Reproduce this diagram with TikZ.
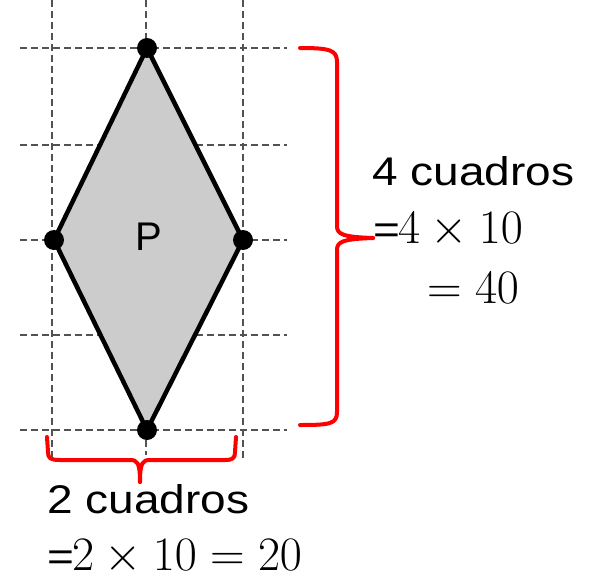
\RequirePackage{fix-cm}
\documentclass[tikz,border=0pt]{standalone}
\usepackage{fontspec}
\newfontfamily\lab[FakeStretch=1.15]{Liberation Sans}
\newfontfamily\plab{Liberation Sans}
\pgfdeclarelayer{bg}
\pgfsetlayers{bg,main}
\begin{document}
\begin{tikzpicture}[x=1pt,y=-1pt,
  grid/.style={dash pattern=on 7pt off 4pt, line width=1.9pt, draw=black!68},
  vert/.style={circle, fill=black, inner sep=0pt, minimum size=20pt},
  brace/.style={draw=red, line width=4pt, line join=round, line cap=round},
  txt/.style={font=\lab\fontsize{40}{48}\selectfont, anchor=base west, inner sep=0pt},
  mth/.style={font=\fontsize{48}{56}\selectfont, anchor=base west, inner sep=0pt}]
\useasboundingbox (0,0) rectangle (599,578);
% vertices
\node[vert] (t) at (147,48) {};
\node[vert] (l) at (54,240) {};
\node[vert] (r) at (243,240) {};
\node[vert] (b) at (147,430) {};
\begin{pgfonlayer}{bg}
  \foreach \x in {52,243} \draw[grid] (\x,0) -- (\x,460);
  \draw[grid] (146,0) -- (146,455);
  \foreach \y in {48,145,240,335,430} \draw[grid] (20,\y) -- (287,\y);
  \filldraw[fill=black!20, draw=black, line width=4.5pt, line join=round]
    (t.center) -- (r.center) -- (b.center) -- (l.center) -- cycle;
\end{pgfonlayer}
\node[font=\plab\fontsize{40}{48}\selectfont, inner sep=0pt] (p) at (149,237) {P};
% right brace
\draw[brace] (300,48) .. controls (330,48) and (337,50) .. (337,62)
  -- (337,226) .. controls (337,234) and (342,237) .. (373,238);
\draw[brace] (373,238) .. controls (342,239) and (337,242) .. (337,250)
  -- (337,412) .. controls (337,424) and (330,425) .. (300,425);
% bottom brace
\draw[brace] (47,437) -- (48,452) .. controls (48,458) and (50,460) .. (60,460)
  -- (130,460) .. controls (137,460) and (140,462) .. (140,482);
\draw[brace] (140,482) .. controls (140,462) and (143,460) .. (150,460)
  -- (225,460) .. controls (233,460) and (235,458) .. (235,452) -- (236,437);
% texts
\node[txt] (h1) at (372,185) {4 cuadros};
\node[txt] (h2) at (373,243) {=};
\node[mth] (h3) at (398,243) {$4\times 10$};
\node[mth] (h4) at (427,303) {$=40$};
\node[txt] (w1) at (47,513) {2 cuadros};
\node[txt] (w2) at (47,570) {=};
\node[mth] (w3) at (72,570) {$2\times 10=20$};
\end{tikzpicture}
\end{document}
